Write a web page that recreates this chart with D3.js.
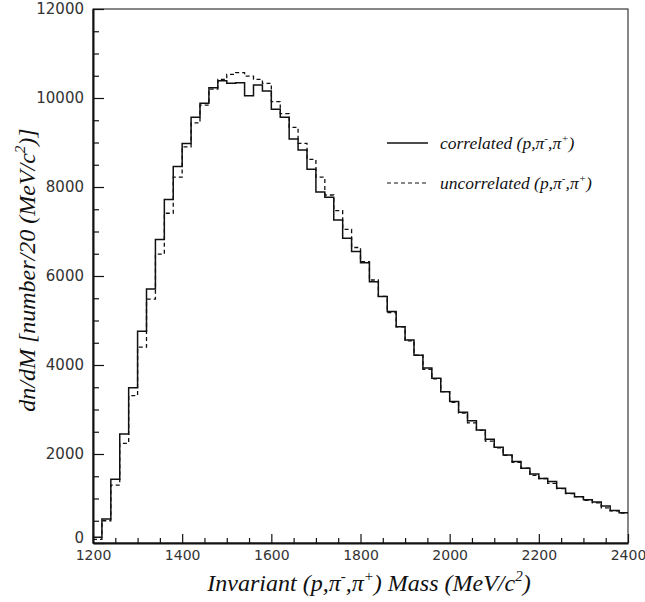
<!DOCTYPE html>
<html>
<head>
<meta charset="utf-8">
<script src="https://cdn.jsdelivr.net/npm/d3@7"></script>
<style>
  body { margin: 0; background: #fff; }
  .tick text { font-family: 'DejaVu Sans', Arial, sans-serif; font-size: 14px; fill: #333; }
  .title { font-family: 'Liberation Serif', 'Times New Roman', serif; font-style: italic; fill: #111; }
</style>
</head>
<body>
<svg class="canvas" width="645" height="602"></svg>
<script>
'use strict';

// Invariant mass histogram, 20 MeV bins from 1200 to 2400.
const massLow = 1200,
  massHigh = 2400,
  binWidth = 20;

const correlated = [
  130, 540, 1430, 2450, 3490, 4760, 5710, 6820, 7720, 8460,
  8980, 9570, 9880, 10230, 10390, 10330, 10340, 10050, 10290, 10160,
  9750, 9570, 9080, 8830, 8400, 7890, 7770, 7260, 6850, 6550,
  6300, 5870, 5540, 5200, 4860, 4560, 4220, 3930, 3700, 3400,
  3180, 2940, 2750, 2540, 2330, 2150, 1980, 1830, 1680, 1550,
  1450, 1380, 1230, 1120, 1040, 970, 920, 830, 730, 680,
];
const uncorrelated = [
  80, 500, 1300, 2240, 3310, 4400, 5480, 6490, 7410, 8220,
  8900, 9440, 9840, 10200, 10420, 10530, 10570, 10490, 10420, 10330,
  9920, 9650, 9340, 8980, 8620, 8220, 7820, 7470, 7050, 6640,
  6320, 5910, 5540, 5180, 4860, 4540, 4220, 3900, 3690, 3400,
  3160, 2920, 2700, 2530, 2290, 2140, 1970, 1810, 1680, 1520,
  1450, 1340, 1220, 1110, 1040, 960, 900, 790, 720, 670,
];
const xTicks = [1200, 1400, 1600, 1800, 2000, 2200, 2400];
const yTicks = [0, 2000, 4000, 6000, 8000, 10000, 12000];

const svg = d3.select('.canvas'),
  plot = { left: 93, right: 628, top: 9, bottom: 543 };

const x = d3.scaleLinear([massLow, massHigh], [plot.left, plot.right]),
  y = d3.scaleLinear([0, 12000], [plot.bottom, plot.top]);

// Frame (top + right)
svg.append('rect')
  .attr('x', plot.left).attr('y', plot.top)
  .attr('width', plot.right - plot.left).attr('height', plot.bottom - plot.top)
  .attr('fill', 'none').attr('stroke', '#111').attr('stroke-width', 1);

// Minor ticks
const xMinor = d3.range(massLow, massHigh + 1, 50).filter(v => !xTicks.includes(v)),
  yMinor = d3.range(0, 12000, 500).filter(v => !yTicks.includes(v));

svg.append('g')
  .attr('transform', `translate(0,${plot.bottom})`)
  .call(d3.axisBottom(x).tickValues(xMinor).tickSize(-5).tickFormat(''))
  .call(g => g.select('.domain').remove())
  .selectAll('line').attr('stroke', '#111').attr('stroke-width', 1.2);

svg.append('g')
  .attr('transform', `translate(${plot.left},0)`)
  .call(d3.axisLeft(y).tickValues(yMinor).tickSize(-6).tickFormat(''))
  .call(g => g.select('.domain').remove())
  .selectAll('line').attr('stroke', '#111').attr('stroke-width', 1.2);

// Major axes
svg.append('g')
  .attr('transform', `translate(0,${plot.bottom})`)
  .call(d3.axisBottom(x).tickValues(xTicks).tickSize(-9).tickPadding(7)
    .tickSizeOuter(0).tickFormat(d3.format('d')))
  .call(g => g.select('.domain').attr('stroke', '#111').attr('stroke-width', 2))
  .call(g => g.selectAll('line').attr('stroke', '#111').attr('stroke-width', 1.2));

svg.append('g')
  .attr('transform', `translate(${plot.left},0)`)
  .call(d3.axisLeft(y).tickValues(yTicks).tickSize(-11).tickPadding(9)
    .tickSizeOuter(0).tickFormat(d3.format('d')))
  .call(g => g.select('.domain').attr('stroke', '#111').attr('stroke-width', 2))
  .call(g => g.selectAll('line').attr('stroke', '#111').attr('stroke-width', 1.2))
  .call(g => g.selectAll('text').style('font-size', '15px'))
  // lift the "0" label clear of the x-axis labels
  .call(g => g.selectAll('.tick').filter(d => d === 0).select('text').attr('y', -5));

// Histograms as step outlines
function steps(values) {
  const pts = values.map((v, i) => [massLow + i * binWidth, v]);
  pts.push([massHigh, values[values.length - 1]]);
  return d3.line(d => x(d[0]), d => y(d[1])).curve(d3.curveStepAfter)(pts);
}

svg.append('path')
  .attr('d', steps(uncorrelated))
  .attr('fill', 'none').attr('stroke', '#111').attr('stroke-width', 1.3)
  .attr('stroke-dasharray', '4,3');

svg.append('path')
  .attr('d', steps(correlated))
  .attr('fill', 'none').attr('stroke', '#111').attr('stroke-width', 1.5);

// Legend
const legend = [
  { label: 'correlated', dash: null, y: 143 },
  { label: 'uncorrelated', dash: '4,3', y: 183 },
];
legend.forEach(d => {
  svg.append('line')
    .attr('x1', 387).attr('x2', 428).attr('y1', d.y).attr('y2', d.y)
    .attr('stroke', '#111').attr('stroke-width', d.dash ? 1.2 : 1.4)
    .attr('stroke-dasharray', d.dash);
  const t = svg.append('text').attr('class', 'title')
    .attr('x', 440).attr('y', d.y + 6).style('font-size', '17.5px');
  t.append('tspan').text(d.label + ' (p,\u03c0');
  t.append('tspan').attr('dy', -7).style('font-size', '11px').text('-');
  t.append('tspan').attr('dy', 7).text(',\u03c0');
  t.append('tspan').attr('dy', -7).style('font-size', '11px').text('+');
  t.append('tspan').attr('dy', 7).text(')');
});

// X title
const xt = svg.append('text').attr('class', 'title')
  .attr('x', 369).attr('y', 591).attr('text-anchor', 'middle').style('font-size', '24px');
xt.append('tspan').text('Invariant (p,\u03c0');
xt.append('tspan').attr('dy', -10).style('font-size', '15px').text('-');
xt.append('tspan').attr('dy', 10).text(',\u03c0');
xt.append('tspan').attr('dy', -10).style('font-size', '15px').text('+');
xt.append('tspan').attr('dy', 10).text(') Mass (MeV/c');
xt.append('tspan').attr('dy', -10).style('font-size', '15px').text('2');
xt.append('tspan').attr('dy', 10).text(')');

// Y title
const yt = svg.append('text').attr('class', 'title')
  .attr('transform', 'translate(35,270) rotate(-90)')
  .attr('text-anchor', 'middle').style('font-size', '24px');
yt.append('tspan').text('dn/dM [number/20 (MeV/c');
yt.append('tspan').attr('dy', -10).style('font-size', '15px').text('2');
yt.append('tspan').attr('dy', 10).text(')]');
</script>
</body>
</html>
